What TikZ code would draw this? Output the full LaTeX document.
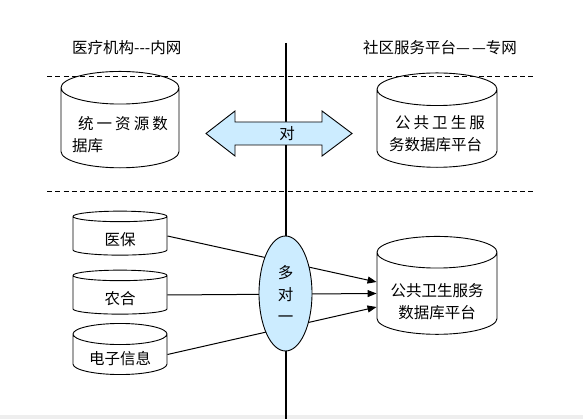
\documentclass[tikz,border=0pt]{standalone}
\usepackage{fontspec}
\newfontfamily\cjk{Noto Sans CJK SC}
\usetikzlibrary{shapes.geometric, arrows.meta}
\definecolor{colorLink}{RGB}{204, 236, 255}
\definecolor{colorStrip}{RGB}{238, 238, 238}
\tikzstyle{database} = [cylinder, shape border rotate=90, aspect=0.34, draw=black, line width=0.9pt, inner sep=0pt]
\tikzstyle{title} = [anchor=west, inner sep=0pt]
\tikzstyle{divider} = [dash pattern=on 5pt off 3.3pt, line width=0.9pt]
\tikzstyle{arrow} = [-{Triangle[length=9pt, width=7pt]}, line width=1pt]
\tikzstyle{gateway} = [ellipse, draw=black, fill=colorLink, line width=0.9pt, minimum width=53pt, minimum height=115pt, inner sep=0pt, align=center]

\begin{document}
\begin{tikzpicture}[x=1pt, y=-1pt, font=\cjk\fontsize{15.5}{22}\selectfont]

		\useasboundingbox (0,0) rectangle (583,419);
		\fill[colorStrip] (0,414.5) rectangle (583,419);

		% titles
		\node (tInner)[title] at (72,48) {医疗机构-{}-{}-内网};
		\node (tOuter)[title] at (363,48) {社区服务平台—\kern2pt—专网};

		% dashed lines
		\coordinate (lineA1) at (47,76);
		\coordinate (lineA2) at (536,76);
		\coordinate (lineB1) at (47,191);
		\coordinate (lineB2) at (536,191);
		\draw[divider] (lineA1) -- (lineA2);
		\draw[divider] (lineB1) -- (lineB2);

		% border between the two networks
		\coordinate (sepTop) at (286,43);
		\coordinate (sepBottom) at (286,419);
		\draw[line width=1.8pt] (sepTop) -- (sepBottom);

		% databases
		\node (dbUnified)[database, minimum width=118pt, minimum height=80pt, align=left, text height=47pt, text depth=0pt] at (120,128)
			{\hspace*{6pt}{\addfontfeature{LetterSpace=20}统一资源数}\\据库};
		\node (dbPublicTop)[database, minimum width=120pt, minimum height=77pt, align=left, text height=45pt, text depth=0pt] at (437,128.5)
			{\hspace*{6pt}{\addfontfeature{LetterSpace=20}公共卫生服}\\务数据库平台};

		\node (dbYibao)[database, minimum width=94pt, minimum height=44pt, text height=20pt, text depth=0pt] at (120,236) {医保};
		\node (dbNonghe)[database, minimum width=94pt, minimum height=44pt, text height=19pt, text depth=0pt] at (120,295) {农合};
		\node (dbDianzi)[database, minimum width=94pt, minimum height=45pt, text height=19pt, text depth=0pt] at (120,354.5) {电子信息};
		\node (dbPublic)[database, minimum width=120pt, minimum height=91pt, align=center, text height=50pt, text depth=0pt] at (437,293.5)
			{公共卫生服务\\数据库平台};

		% lines and arrows
		\draw[arrow] (dbYibao.east) -- ([yshift=11.5pt]dbPublic.west);
		\draw[arrow] (dbNonghe.east) -- (dbPublic.west);
		\draw[arrow] (dbDianzi.east) -- ([yshift=-13.5pt]dbPublic.west);

		\node (hub)[gateway] at (285.5,293.5) {多\\对\\一};

		% two-way link
		\draw[line width=0.9pt, fill=colorLink] (206,133.5) -- (235,111) -- (235,122) -- (322,122) -- (322,111)
			-- (352,133.5) -- (322,156) -- (322,145) -- (235,145) -- (235,156) -- cycle;
		\node (dui) at (287,133.5) {对};

	\end{tikzpicture}
\end{document}
